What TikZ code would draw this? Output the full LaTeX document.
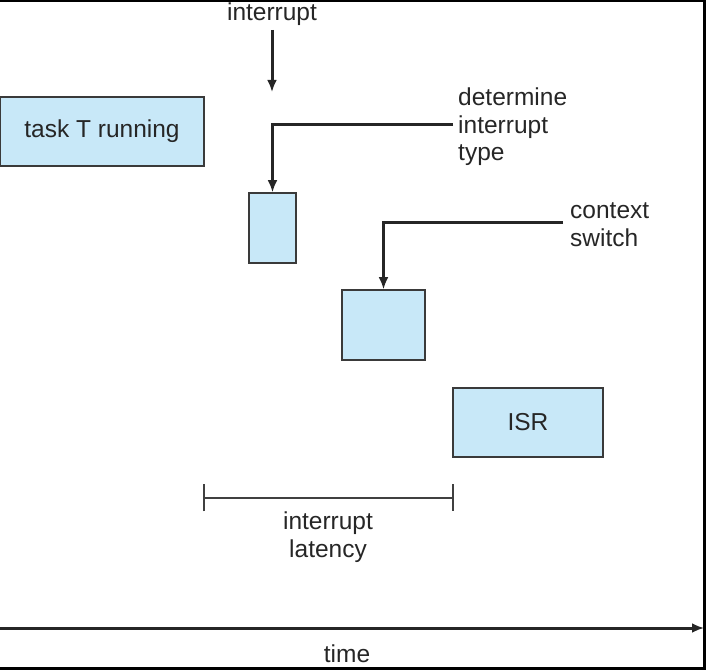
\documentclass[tikz,border=0pt]{standalone}
\usepackage{fontspec}
\setmainfont{Liberation Sans}
\usetikzlibrary{arrows.meta}

\definecolor{boxblue}{HTML}{C8E8F8}
\definecolor{boxedge}{HTML}{3A3A3A}

\begin{document}
\begin{tikzpicture}[x=1pt, y=1pt,
	every node/.style={font=\fontsize{24.5}{27.5}\selectfont, text=black!85},
	>={Latex[length=12pt, width=10pt]},
	taskbox/.style={draw=boxedge, fill=boxblue, line width=1.5pt, inner sep=0pt},
	flow/.style={->, line width=3pt, black!85}]
	\useasboundingbox (0,0) rectangle (706,669);
	% frame
	\draw[line width=3pt] (0,668) -- (704.5,668) -- (704.5,1) -- (0,1);
	% boxes
	\node[taskbox, minimum width=204pt, minimum height=69pt] (task) at (102,537.5) {task T running};
	\node[taskbox, minimum width=47pt, minimum height=70pt] (type) at (272.5,441) {};
	\node[taskbox, minimum width=83pt, minimum height=70pt] (switch) at (383.5,344) {};
	\node[taskbox, minimum width=150pt, minimum height=69pt] (isr) at (528,246.5) {ISR};
	% labels
	\node (intr) at (272,655) {interrupt};
	\node[anchor=west, align=left, inner sep=0pt] (typelbl) at (458,542) {determine\\interrupt\\type};
	\node[anchor=west, align=left, inner sep=0pt] (switchlbl) at (570,444.5) {context\\switch};
	\node[align=center] (latlbl) at (328,132) {interrupt\\latency};
	\node (timelbl) at (347,15) {time};
	% arrows
	\coordinate (intrstart) at (272,639);
	\coordinate (intrend) at (272,577);
	\draw[flow] (intrstart) -- (intrend);
	\draw[flow] ([xshift=-5pt]typelbl.west |- 0,544) -| (type.north);
	\draw[flow] ([xshift=-7pt]switchlbl.west |- 0,446) -| (switch.north);
	% latency bracket
	\coordinate (latstart) at ([xshift=-1.5pt]task.east |- 0,171);
	\coordinate (latend) at ([xshift=1.5pt]isr.west |- 0,171);
	\draw[{Bar[width=27pt]}-{Bar[width=27pt]}, line width=2pt, black!75] (latstart) -- (latend);
	% time axis
	\coordinate (axstart) at (0,41);
	\coordinate (axend) at (704,41);
	\draw[flow] (axstart) -- (axend);
\end{tikzpicture}
\end{document}
